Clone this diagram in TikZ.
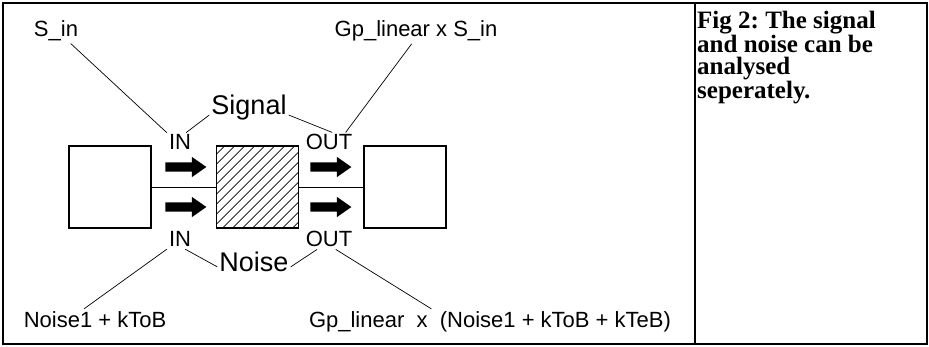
\documentclass[tikz,border=0pt]{standalone}
\usepackage{fontspec}
\setmainfont{Liberation Sans}
\newfontfamily\capfont{Liberation Serif}
\usetikzlibrary{positioning, arrows.meta, shapes.arrows}

\tikzset{
  frame/.style={line width=2.6pt},
  blockbox/.style={draw, line width=1.6pt, minimum size=82pt, inner sep=0pt},
  lbl/.style={inner sep=2pt, font=\fontsize{22}{24}\selectfont},
  biglbl/.style={inner sep=2pt, font=\fontsize{27}{30}\selectfont},
  fatarrow/.style={single arrow, fill=black, inner sep=4.5pt, minimum height=41pt,
                   single arrow head extend=5.5pt, single arrow tip angle=70},
  leader/.style={line width=0.7pt},
  hatchline/.style={line width=0.7pt}
}

\begin{document}
\begin{tikzpicture}[x=1pt, y=-1pt]
  \useasboundingbox (0,0) rectangle (929,347);
  \draw[frame] (3,3) rectangle (927,344);
  \draw[frame] (695,3) -- (695,344);

  % the three blocks
  \node[blockbox] (srcbox) at (110,187) {};
  \node[blockbox, right=64pt of srcbox,
        path picture={\foreach \i in {0,10,...,170}
          \draw[hatchline] ([xshift=\i pt-84pt]path picture bounding box.south west) -- ++(84pt,84pt);}]
        (dutbox) {};
  \node[blockbox, right=64pt of dutbox] (loadbox) {};
  \draw[leader] (srcbox) -- (dutbox);
  \draw[leader] (dutbox) -- (loadbox);

  \node[fatarrow] (arsin)  at (182.5,167) {};
  \node[fatarrow] (arnin)  at (182.5,207) {};
  \node[fatarrow] (arsout) at (327.5,167) {};
  \node[fatarrow] (arnout) at (327.5,207) {};

  % signal path labels
  \node[lbl, anchor=base] (sin)  at (56,37)   {S\_in};
  \node[lbl, anchor=base] (gps)  at (416,37)  {Gp\_linear x S\_in};
  \node[biglbl, anchor=base] (sig) at (249,115) {Signal};
  \node[lbl, anchor=base] (inS)  at (180,150) {IN};
  \node[lbl, anchor=base] (outS) at (329,150) {OUT};
  \draw[leader] (sin.-40) -- (inS.north west);
  \draw[leader] (inS.58) -- (sig.190);
  \draw[leader] (sig.350) -- (outS.72);
  \draw[leader] (gps.-109) -- (outS.31);

  % noise path labels
  \node[lbl, anchor=base] (inN)  at (180,247) {IN};
  \node[lbl, anchor=base] (outN) at (329,247) {OUT};
  \node[biglbl, anchor=base] (noise) at (254,272) {Noise};
  \node[lbl, anchor=base] (nin)  at (95,327)  {Noise1 + kToB};
  \node[lbl, anchor=base] (nout) at (490,327) {Gp\_linear\ \ x\ \ (Noise1 + kToB + kTeB)};
  \draw[leader] (inN.south west) -- (nin.137);
  \draw[leader] (inN.-62) -- (noise.187);
  \draw[leader] (noise.-7) -- (outN.-140);
  \draw[leader] (outN.-56) -- (nout.168);

  \node[anchor=north west, inner sep=0pt, align=left,
        font=\capfont\bfseries\fontsize{25}{22.5}\selectfont] (caption) at (697,11)
        {Fig 2:\ The signal\\and noise can be\\analysed\\seperately.};
\end{tikzpicture}
\end{document}
